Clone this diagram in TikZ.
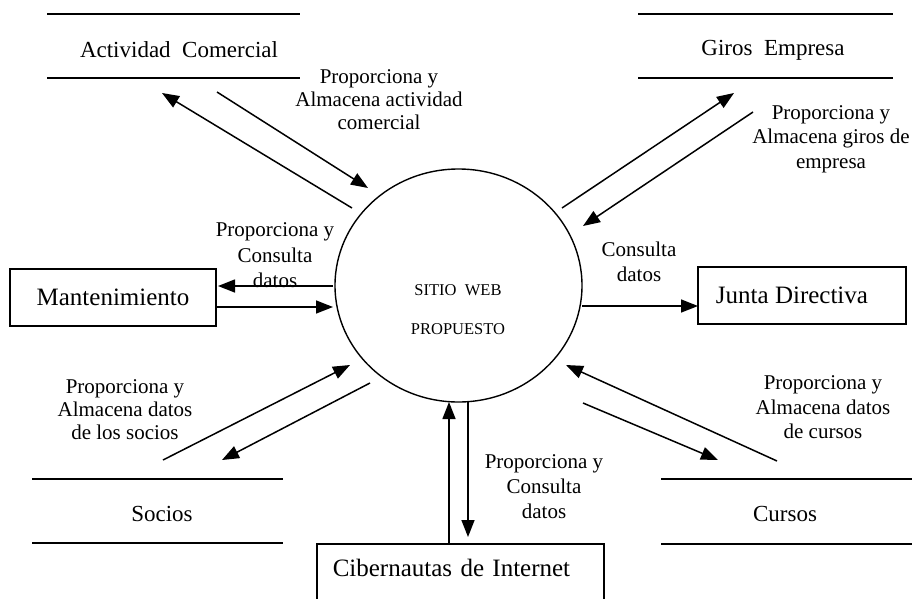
\documentclass[tikz,border=0pt]{standalone}
\usepackage{fontspec}
\setmainfont{Liberation Serif}
\usetikzlibrary{arrows.meta,shapes.geometric}
\begin{document}
\begin{tikzpicture}[x=1pt,y=-1pt,
  flow/.style={line width=1.5pt,-{Triangle[length=17pt,width=13pt]}},
  storeline/.style={line width=1.7pt},
  box/.style={draw,line width=1.5pt,rectangle,inner sep=0pt},
  lbl/.style={font=\fontsize{21}{24.5}\selectfont,align=center,inner sep=0pt},
  ent/.style={font=\fontsize{25}{30}\selectfont},
  storetxt/.style={font=\fontsize{23}{28}\selectfont,inner sep=0pt}]
\useasboundingbox (0,0) rectangle (912,598);
\clip (0,0) rectangle (912,598);
\fill[white] (0,0) rectangle (912,598);

% central process
\node[draw,ellipse,line width=1.4pt,minimum width=247pt,minimum height=233pt,inner sep=0pt] (web) at (458.5,285.5) {};
\node[font=\fontsize{16.5}{39}\selectfont,align=center,inner sep=0pt] (webtxt) at (458,309.5) {SITIO\ \ WEB\\PROPUESTO};

% external entities
\node[box,ent,minimum width=206pt,minimum height=57pt] (mant) at (113,297.5) {Mantenimiento};
\node[box,ent,minimum width=208pt,minimum height=57pt] (junta) at (802,295.5) {Junta Directiva\hspace*{20pt}};
\node[box,ent,anchor=north west,text width=255pt,inner xsep=16pt,inner ysep=15pt,text depth=60pt] (ciber) at (316,543) {Cibernautas de Internet};

% data stores
\node[storetxt] (actc) at (179,50) {Actividad\ \ Comercial};
\draw[storeline] (47,14) -- (300,14) (47,78) -- (300,78);
\node[storetxt] (giros) at (773,50) {Giros\ \ Empresa};
\draw[storeline] (638,14) -- (893,14) (638,78) -- (893,78);
\node[storetxt] (socios) at (162,514) {Socios};
\draw[storeline] (32,479) -- (283,479) (32,543) -- (283,543);
\node[storetxt] (cursos) at (785,514) {Cursos};
\draw[storeline] (661,479) -- (912,479) (661,544) -- (912,544);

% connector end points
\coordinate (a1) at (352,208); \coordinate (a2) at (162,93);
\coordinate (b1) at (217,92);  \coordinate (b2) at (368,188);
\coordinate (c1) at (562,208); \coordinate (c2) at (734,93);
\coordinate (d1) at (753,112); \coordinate (d2) at (583,226);
\coordinate (e1) at (333,286); \coordinate (e2) at (218,286);
\coordinate (f1) at (217,307); \coordinate (f2) at (333,307);
\coordinate (g1) at (582,306); \coordinate (g2) at (698,306);
\coordinate (h1) at (163,460); \coordinate (h2) at (350,365);
\coordinate (i1) at (370,383); \coordinate (i2) at (222,460);
\coordinate (j1) at (583,403); \coordinate (j2) at (718,460);
\coordinate (k1) at (777,461); \coordinate (k2) at (566,365);
\coordinate (l1) at (449,543); \coordinate (l2) at (449,402);
\coordinate (m1) at (468,402); \coordinate (m2) at (468,537);

\draw[flow] (a1) -- (a2);
\draw[flow] (b1) -- (b2);
\draw[flow] (c1) -- (c2);
\draw[flow] (d1) -- (d2);
\draw[flow] (e1) -- (e2);
\draw[flow] (f1) -- (f2);
\draw[flow] (g1) -- (g2);
\draw[flow] (h1) -- (h2);
\draw[flow] (i1) -- (i2);
\draw[flow] (j1) -- (j2);
\draw[flow] (k1) -- (k2);
\draw[flow] (l1) -- (l2);
\draw[flow] (m1) -- (m2);

% labels
\node[lbl,font=\fontsize{21}{23}\selectfont] (lac) at (379,100) {Proporciona y\\Almacena actividad\\comercial};
\node[lbl] (lge) at (831,139) {Proporciona y\\Almacena giros de\\empresa};
\node[lbl,font=\fontsize{21}{25.5}\selectfont] (lmant) at (275,255.5) {Proporciona y\\Consulta\\datos};
\node[lbl,font=\fontsize{21}{25}\selectfont] (ljunta) at (639,261.5) {Consulta\\datos};
\node[lbl,font=\fontsize{21}{23}\selectfont] (lsoc) at (125,410) {Proporciona y\\Almacena datos\\de los socios};
\node[lbl] (lcur) at (823,407.5) {Proporciona y\\Almacena datos\\de cursos};
\node[lbl,font=\fontsize{21}{25}\selectfont] (lcib) at (544,487) {Proporciona y\\Consulta\\datos};
\end{tikzpicture}
\end{document}
